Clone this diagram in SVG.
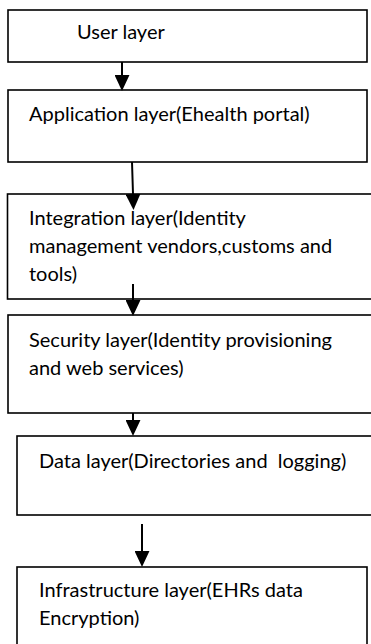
<svg xmlns="http://www.w3.org/2000/svg" width="371" height="644" viewBox="0 0 371 644">
  <style>
    .box { fill: #ffffff; stroke: #000000; stroke-width: 1.6; }
    .lbl { font-family: "Lato", "Liberation Sans", sans-serif; font-size: 20px; fill: #000000; }
    .conn { stroke: #000000; stroke-width: 2; fill: none; }
  </style>
  <defs>
    <marker id="arrowhead" markerUnits="userSpaceOnUse" markerWidth="16" markerHeight="15" viewBox="0 0 15 14" refX="0" refY="7" orient="auto">
      <path d="M0,0 L15,7 L0,14 Z" fill="#000000"/>
    </marker>
  </defs>
  <rect width="371" height="644" fill="#ffffff"/>

  <g id="user-layer">
    <rect class="box" x="8" y="10" width="359" height="52"/>
    <text class="lbl" x="77" y="39">User layer</text>
  </g>

  <g id="application-layer">
    <rect class="box" x="8" y="90" width="359" height="72"/>
    <text class="lbl" x="29" y="121">Application layer(Ehealth portal)</text>
  </g>

  <g id="integration-layer">
    <rect class="box" x="7.5" y="194" width="370" height="105"/>
    <text class="lbl" x="29" y="225">Integration layer(Identity</text>
    <text class="lbl" x="29" y="253">management vendors,customs and</text>
    <text class="lbl" x="29" y="281">tools)</text>
  </g>

  <g id="security-layer">
    <rect class="box" x="8" y="315" width="370" height="98"/>
    <text class="lbl" x="29" y="347">Security layer(Identity provisioning</text>
    <text class="lbl" x="29" y="375">and web services)</text>
  </g>

  <g id="data-layer">
    <rect class="box" x="17" y="436" width="361" height="79"/>
    <text class="lbl" x="39" y="468" xml:space="preserve">Data layer(Directories and  logging)</text>
  </g>

  <g id="infrastructure-layer">
    <rect class="box" x="17" y="567" width="350" height="90"/>
    <text class="lbl" x="39" y="597">Infrastructure layer(EHRs data</text>
    <text class="lbl" x="39" y="625">Encryption)</text>
  </g>

  <g id="connectors">
    <path class="conn" d="M122,62 L122,75" marker-end="url(#arrowhead)"/>
    <path class="conn" d="M132,162 L133,194" marker-end="url(#arrowhead)"/>
    <path class="conn" d="M133,284 L133,300" marker-end="url(#arrowhead)"/>
    <path class="conn" d="M133,413 L133,420" marker-end="url(#arrowhead)"/>
    <path class="conn" d="M142,524 L142,551" marker-end="url(#arrowhead)"/>
  </g>
</svg>
